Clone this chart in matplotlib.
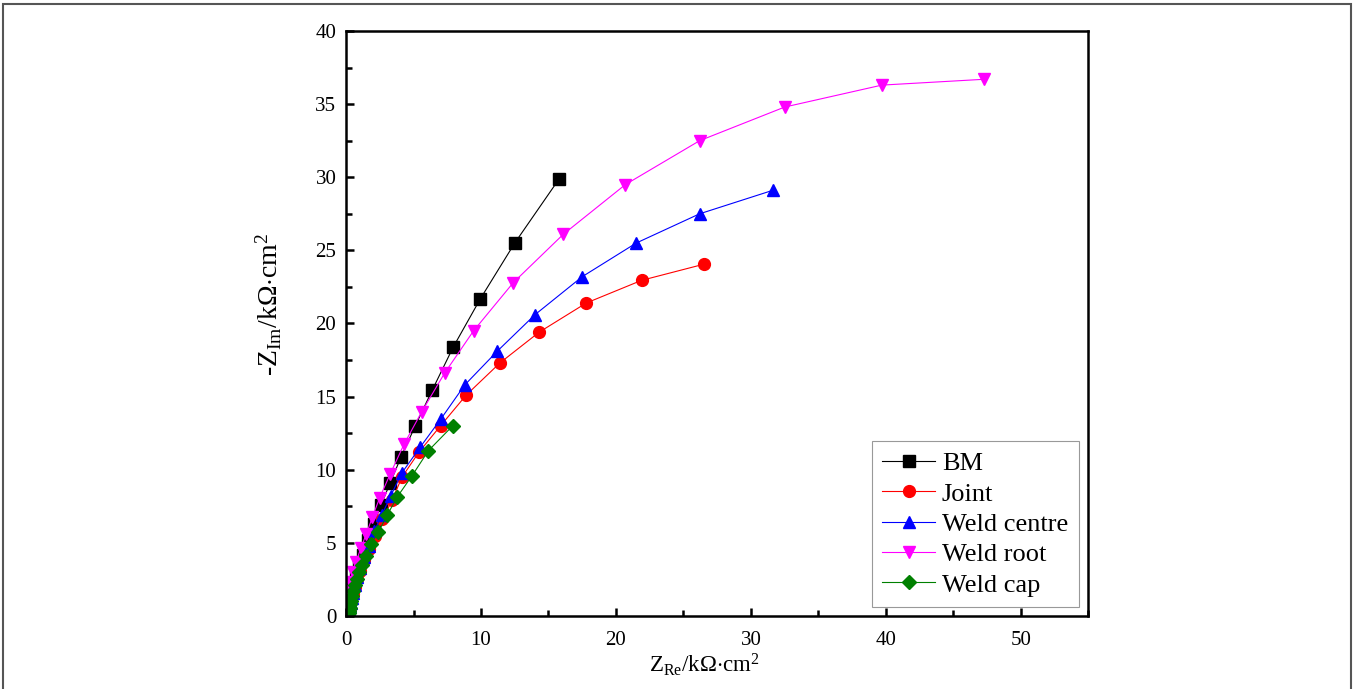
import numpy as np
import matplotlib as mpl
import matplotlib.pyplot as plt
from matplotlib.patches import Rectangle
from matplotlib.ticker import MultipleLocator

mpl.rcParams['font.family'] = ['Liberation Serif', 'DejaVu Serif']
mpl.rcParams['mathtext.fontset'] = 'custom'
mpl.rcParams['mathtext.rm'] = 'Liberation Serif'
mpl.rcParams['mathtext.it'] = 'Liberation Serif:italic'

# Nyquist data (kOhm cm2)
bm_x = [0.16, 0.2, 0.25, 0.32, 0.42, 0.55, 0.72, 0.95, 1.25, 1.6, 2.05, 2.6, 3.27, 4.09, 5.13, 6.39, 7.95, 9.96, 12.5, 15.8]
bm_y = [0.4, 0.6, 0.9, 1.2, 1.6, 2.1, 2.7, 3.4, 4.2, 5.2, 6.3, 7.6, 9.1, 10.9, 13.0, 15.45, 18.4, 21.7, 25.5, 29.9]

joint_x = [0.22, 0.26, 0.32, 0.4, 0.5, 0.64, 0.82, 1.05, 1.35, 1.7, 2.15, 2.7, 3.4, 4.15, 5.4, 7.0, 8.9, 11.4, 14.3, 17.8, 21.9, 26.5]
joint_y = [0.35, 0.55, 0.8, 1.1, 1.5, 1.95, 2.5, 3.1, 3.8, 4.6, 5.5, 6.6, 7.9, 9.5, 11.2, 13.0, 15.1, 17.3, 19.4, 21.4, 22.95, 24.05]

centre_x = [0.24, 0.28, 0.34, 0.42, 0.52, 0.65, 0.83, 1.05, 1.35, 1.7, 2.1, 2.65, 3.3, 4.15, 5.5, 7.05, 8.8, 11.2, 14.0, 17.5, 21.5, 26.2, 31.6]
centre_y = [0.4, 0.6, 0.9, 1.2, 1.6, 2.1, 2.65, 3.3, 4.0, 4.8, 5.8, 6.9, 8.2, 9.8, 11.55, 13.5, 15.8, 18.1, 20.6, 23.2, 25.5, 27.5, 29.1]

root_x = [0.04, 0.06, 0.1, 0.15, 0.3, 0.5, 0.75, 1.1, 1.5, 1.95, 2.5, 3.27, 4.3, 5.6, 7.3, 9.45, 12.4, 16.1, 20.7, 26.2, 32.5, 39.7, 47.3]
root_y = [0.5, 0.8, 1.2, 1.7, 2.3, 3.0, 3.7, 4.65, 5.6, 6.75, 8.1, 9.7, 11.75, 13.95, 16.6, 19.5, 22.8, 26.1, 29.5, 32.5, 34.8, 36.3, 36.7]

cap_x = [0.23, 0.25, 0.28, 0.32, 0.37, 0.44, 0.52, 0.64, 0.78, 0.95, 1.2, 1.5, 1.85, 2.4, 3.05, 3.8, 4.9, 6.1, 7.9]
cap_y = [0.2, 0.35, 0.55, 0.8, 1.05, 1.35, 1.7, 2.1, 2.5, 3.0, 3.5, 4.1, 4.9, 5.75, 6.9, 8.15, 9.6, 11.3, 13.0]

series = [
    ('BM', bm_x, bm_y, 'black', 's'),
    ('Joint', joint_x, joint_y, 'red', 'o'),
    ('Weld centre', centre_x, centre_y, 'blue', '^'),
    ('Weld root', root_x, root_y, 'magenta', 'v'),
    ('Weld cap', cap_x, cap_y, 'green', 'D'),
]

fig = plt.figure(figsize=(13.57, 6.89), dpi=100)
ax = fig.add_axes([0.255, 0.106, 0.547, 0.849])

for name, x, y, c, m in series:
    ms = 7.5 if m == 'D' else 8.5
    ax.plot(x, y, color=c, marker=m, markersize=ms, linewidth=0.8, label=name)

ax.set_xlim(0, 55)
ax.set_ylim(0, 40)
ax.xaxis.set_major_locator(MultipleLocator(10))
ax.xaxis.set_minor_locator(MultipleLocator(5))
ax.yaxis.set_major_locator(MultipleLocator(5))
ax.yaxis.set_minor_locator(MultipleLocator(2.5))
ax.tick_params(which='both', direction='in', width=1.8, labelsize=15)
ax.tick_params(which='major', length=6)
ax.tick_params(which='minor', length=4)
ax.tick_params(axis='x', pad=11)
ax.tick_params(axis='y', pad=7)
for s in ax.spines.values():
    s.set_linewidth(1.8)

ax.set_xlabel(r'Z$_{\mathregular{Re}}$/k$\Omega$$\cdot$cm$^{\mathregular{2}}$', fontsize=16.5)
ax.set_ylabel(r'-Z$_{\mathregular{Im}}$/k$\Omega$$\cdot$cm$^{\mathregular{2}}$', fontsize=20)
ax.xaxis.set_label_coords(0.4825, -0.06)
ax.yaxis.set_label_coords(-0.083, 0.532)

leg = ax.legend(loc='lower right', bbox_to_anchor=(0.987, 0.015), borderaxespad=0,
                fontsize=19, fancybox=False, edgecolor='gray', handlelength=2.0,
                handletextpad=0.25, labelspacing=0.26, borderpad=0.4)
leg.get_frame().set_linewidth(0.8)

# outer frame around the figure
fig.patches.append(Rectangle((3 / 1357, -0.01), 1348 / 1357, 1 - 4 / 689 + 0.01,
                             transform=fig.transFigure, fill=False,
                             edgecolor='#555555', linewidth=1.5))

fig.savefig('out.png', dpi=100)
